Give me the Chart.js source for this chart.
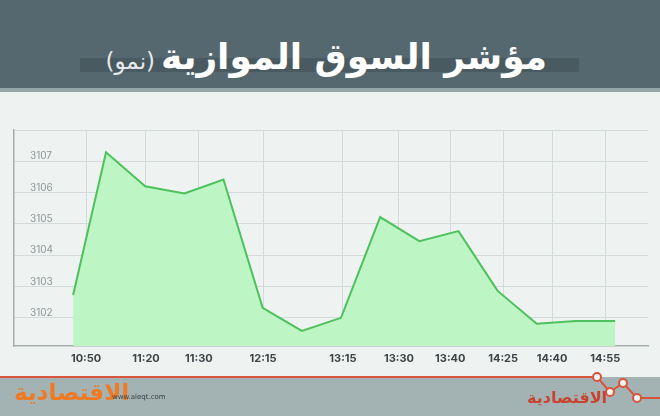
<!DOCTYPE html>
<html>
<head>
<meta charset="utf-8">
<script src="https://cdn.jsdelivr.net/npm/chart.js@4/dist/chart.umd.min.js"></script>
<style>
  body { margin: 0; width: 660px; height: 416px; overflow: hidden; background: #eef2f1; position: relative; font-family: "DejaVu Sans", sans-serif; }
  #head { position: absolute; left: 0; top: 0; width: 660px; height: 88px; background: #56686f; }
  #strip { position: absolute; left: 0; top: 88px; width: 660px; height: 4px; background: #95a5a8; }
  #bar { position: absolute; left: 80px; top: 58px; width: 499px; height: 14px; background: #4a5a61; }
  #title { position: absolute; right: 113px; top: 36px; direction: rtl; white-space: nowrap; color: #ffffff; font: bold 36px "DejaVu Sans", sans-serif; }
  #title span { font-size: 23px; font-weight: normal; color: #e4eaec; margin-right: 6px; }
  #chart { position: absolute; left: 0; top: 92px; }
  #foot { position: absolute; left: 0; top: 377px; width: 660px; height: 39px; background: #a3b2b3; }
  #logoL { position: absolute; left: 14px; top: 379px; direction: rtl; color: #f07a22; font: bold 23px "DejaVu Sans", sans-serif; }
  #site { position: absolute; left: 112px; top: 393px; color: #3b4245; font: 7px "DejaVu Sans", sans-serif; }
  #logoR { position: absolute; left: 527px; top: 388px; direction: rtl; color: #c94430; font: bold 16px "DejaVu Sans", sans-serif; }
  #deco { position: absolute; left: 0; top: 370px; }
</style>
</head>
<body>
<div id="head"></div>
<div id="strip"></div>
<div id="bar"></div>
<div id="title">مؤشر السوق الموازية<span>(نمو)</span></div>
<canvas id="chart" width="660" height="285"></canvas>
<div id="foot"></div>
<svg id="deco" width="660" height="40">
  <polyline points="0,7 597,7 610,22 623,13 637,28 660,28" fill="none" stroke="#d9543a" stroke-width="2"/>
  <circle cx="597" cy="7" r="4" fill="#f4f4f4" stroke="#d9543a" stroke-width="2"/>
  <circle cx="610" cy="22" r="4" fill="#f4f4f4" stroke="#d9543a" stroke-width="2"/>
  <circle cx="623" cy="13" r="4" fill="#f4f4f4" stroke="#d9543a" stroke-width="2"/>
  <circle cx="637" cy="28" r="4" fill="#f4f4f4" stroke="#d9543a" stroke-width="2"/>
</svg>
<div id="logoL">الاقتصادية</div>
<div id="site">www.aleqt.com</div>
<div id="logoR">الاقتصادية</div>
<script>
// index values
const pointX = [0.16, 1, 2, 3, 4, 5, 6, 7, 8, 9, 10, 11, 12, 13, 14];
const values = [3102.73, 3107.29, 3106.2, 3105.97, 3106.42, 3102.32, 3101.58, 3102.0,
  3105.22, 3104.45, 3104.77, 3102.86, 3101.81, 3101.9, 3101.9];

// x axis labels and where they sit on the axis
const timeLabels = ['10:50', '11:20', '11:30', '12:15', '13:15', '13:30', '13:40', '14:25', '14:40', '14:55'];
const timePos = [0.49, 2.02, 3.37, 5.01, 7.05, 8.48, 9.79, 11.14, 12.39, 13.75];

// y ticks (3108 is the top line, no label)
const yTicks = [3102, 3103, 3104, 3105, 3106, 3107, 3108];

const gridColor = '#d4d9da';
const axisColor = '#a5adaf';

new Chart(document.getElementById('chart'), {
  type: 'line',
  data: {
    datasets: [{
      data: values.map((v, i) => ({ x: pointX[i], y: v })),
      borderColor: '#4dc15b',
      borderWidth: 2,
      backgroundColor: '#bdf5c5',
      fill: 'start',
      pointRadius: 0,
      tension: 0
    }]
  },
  options: {
    responsive: false,
    animation: false,
    devicePixelRatio: 1,
    layout: { padding: { left: 14, right: 12, top: 38, bottom: 0 } },
    plugins: { legend: { display: false }, tooltip: { enabled: false } },
    scales: {
      x: {
        type: 'linear',
        min: -1.35,
        max: 14.84,
        afterBuildTicks: scale => { scale.ticks = timePos.map(v => ({ value: v })); },
        afterFit: scale => { scale.height = 31; },
        grid: { color: gridColor, drawTicks: false },
        border: { color: axisColor, width: 1.5 },
        ticks: {
          autoSkip: false,
          maxRotation: 0,
          padding: 6,
          color: '#3d4347',
          font: { family: 'Inter', size: 11, weight: 'bold' },
          callback: (v, i) => timeLabels[i]
        }
      },
      y: {
        min: 3101.1,
        max: 3108,
        afterBuildTicks: scale => { scale.ticks = yTicks.map(v => ({ value: v })); },
        afterFit: scale => { scale.width = 0; },
        grid: { color: gridColor, drawTicks: false },
        border: { color: axisColor, width: 1.5 },
        ticks: {
          mirror: true,
          padding: 16,
          labelOffset: -5,
          color: '#8e9599',
          font: { family: 'Inter', size: 10 },
          callback: v => (v === 3108 ? '' : v)
        }
      }
    }
  }
});
</script>
</body>
</html>
